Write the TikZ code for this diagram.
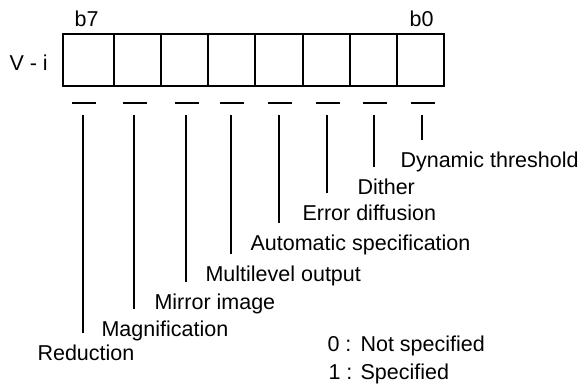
\documentclass[tikz,border=0pt]{standalone}
\usepackage{fontspec}
\setmainfont{Liberation Sans}
\usetikzlibrary{positioning}

\begin{document}
\begin{tikzpicture}[x=1pt, y=-1pt, line width=1.1pt,
  every node/.style={font=\fontsize{21.5}{24}\selectfont},
  bitlabel/.style={anchor=base west, inner sep=0pt},
  leader/.style={shorten >=12pt}]
  \useasboundingbox (0,0) rectangle (579,387);

  % ==========================================
  % Register V - i (bits b7 ... b0)
  % ==========================================
  \draw (63,34) rectangle (444,86);
  \foreach \x in {114,161,208,255,303,350,397}
    \draw (\x,34) -- (\x,86);

  \node[bitlabel] (reg) at (9,71) {V - i};
  \node[bitlabel] (msb) at (74,27) {b7};
  \node[bitlabel] (lsb) at (409,27) {b0};

  % Dashes under each bit, leader start points
  \foreach \n/\x in {7/83,6/134,5/186,4/231,3/279,2/327,1/374,0/422} {
    \draw (\x-11,103) -- (\x+13,103);
    \coordinate (t\n) at (\x,115);
  }

  % ==========================================
  % Bit meanings
  % ==========================================
  \node[bitlabel] (l0) at (400,168) {Dynamic threshold};
  \node[bitlabel] (l1) at (357,195) {Dither};
  \node[bitlabel] (l2) at (302,221) {Error diffusion};
  \node[bitlabel] (l3) at (250,251) {Automatic specification};
  \node[bitlabel] (l4) at (205,282) {Multilevel output};
  \node[bitlabel] (l5) at (154,310) {Mirror image};
  \node[bitlabel] (l6) at (101,337) {Magnification};
  \node[bitlabel] (l7) at (37,361) {Reduction};

  % Leader lines
  \foreach \n in {0,...,7}
    \draw[leader] (t\n) -- (t\n |- l\n.north);

  % Legend
  \node[bitlabel] (k0) at (327,352) {0 :};
  \node[bitlabel] (v0) at (360,352) {Not specified};
  \node[bitlabel] (k1) at (328,380) {1 :};
  \node[bitlabel] (v1) at (360,380) {Specified};

\end{tikzpicture}
\end{document}
